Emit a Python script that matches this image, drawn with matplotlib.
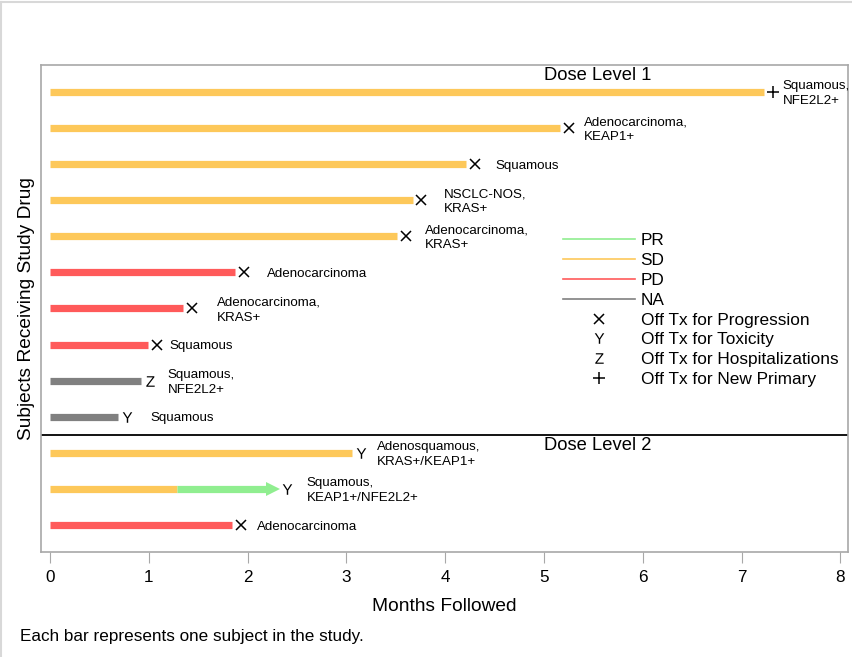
import numpy as np
import matplotlib
matplotlib.use("Agg")
import matplotlib.pyplot as plt
from matplotlib.lines import Line2D

plt.rcParams['font.family'] = ['Liberation Sans', 'DejaVu Sans']
plt.rcParams['mathtext.fontset'] = 'custom'
plt.rcParams['mathtext.rm'] = 'Liberation Sans'

# one row per subject, top to bottom (rows 0-9 dose level 1, 10-12 dose level 2)
months_total = [7.23, 5.16, 4.21, 3.67, 3.51, 1.87, 1.35, 0.99, 0.92, 0.69, 3.06, 2.31, 1.84]
months_first = [7.23, 5.16, 4.21, 3.67, 3.51, 1.87, 1.35, 0.99, 0.92, 0.69, 3.06, 1.29, 1.84]
response_first = ['SD', 'SD', 'SD', 'SD', 'SD', 'PD', 'PD', 'PD', 'NA', 'NA', 'SD', 'SD', 'PD']
response_second = [None] * 11 + ['PR', None]
off_reason = ['+', 'X', 'X', 'X', 'X', 'X', 'X', 'X', 'Z', 'Y', 'Y', 'Y', 'X']
histology = ['Squamous,\nNFE2L2+', 'Adenocarcinoma,\nKEAP1+', 'Squamous', 'NSCLC-NOS,\nKRAS+',
             'Adenocarcinoma,\nKRAS+', 'Adenocarcinoma', 'Adenocarcinoma,\nKRAS+', 'Squamous',
             'Squamous,\nNFE2L2+', 'Squamous', 'Adenosquamous,\nKRAS+/KEAP1+',
             'Squamous,\nKEAP1+/NFE2L2+', 'Adenocarcinoma']
label_pad = [7, 11, 15, 16, 14, 17, 18, 9, 13, 17, 11, 14, 12]  # points

colors = {'PR': '#90EE90', 'SD': '#FDC85A', 'PD': '#FF5A5A', 'NA': '#808080'}
markers = {'X': 'x', 'Y': r'$\mathrm{Y}$', 'Z': r'$\mathrm{Z}$', '+': '+'}
marker_size = {'X': 7.2, 'Y': 7.6, 'Z': 7.6, '+': 8}
marker_ew = {'X': 1.1, 'Y': 0, 'Z': 0, '+': 1.1}

fig = plt.figure(figsize=(8.53, 6.57), dpi=100)
ax = fig.add_axes([41/853, 1-552/657, 807/853, 487/657])

rows = np.arange(len(months_total))
gap = 0.09
for i in rows:
    ax.hlines(i, 0, months_first[i], color=colors[response_first[i]], lw=5.2)
    if response_second[i]:
        ax.hlines(i, months_first[i], months_total[i] - 0.08, color=colors[response_second[i]], lw=5.2)
        ax.plot(months_total[i] - 0.05, i, marker='>', ms=10, color=colors[response_second[i]], mew=0)
    mx = months_total[i] + gap
    k = off_reason[i]
    ax.plot(mx, i, marker=markers[k], ms=marker_size[k], color='black', mew=marker_ew[k], ls='none')
    ax.annotate(histology[i], (mx, i), xytext=(label_pad[i], -1.2), textcoords='offset points',
                ha='left', va='center', fontsize=9.6, linespacing=1.32)

ax.axhline(9.5, color='black', lw=1.3)
ax.text(5.54, -0.47, 'Dose Level 1', fontsize=13.2, ha='center', va='center')
ax.text(5.54, 9.8, 'Dose Level 2', fontsize=13.2, ha='center', va='center')

ax.set_xlim(-0.0911, 8.077)
ax.set_ylim(12.75, -0.75)
ax.set_xticks(range(9))
ax.set_yticks([])
ax.tick_params(axis='x', length=8, color='#A8A8A8', labelsize=12.3, pad=5)
for s in ax.spines.values():
    s.set_color('#A8A8A8')
    s.set_linewidth(1.2)
ax.set_xlabel('Months Followed', fontsize=13.8, labelpad=9)
ax.set_ylabel('Subjects Receiving Study Drug', fontsize=13.8, labelpad=4)

handles = [Line2D([], [], color=colors[k], lw=1.2) for k in ['PR', 'SD', 'PD', 'NA']]
handles += [Line2D([], [], color='black', ls='none', marker=markers[k], ms=marker_size[k],
                   mew=marker_ew[k]) for k in ['X', 'Y', 'Z', '+']]
labels = ['PR', 'SD', 'PD', 'NA', 'Off Tx for Progression', 'Off Tx for Toxicity',
          'Off Tx for Hospitalizations', 'Off Tx for New Primary']
ax.legend(handles, labels, loc='upper left', bbox_to_anchor=(0.647, 0.655), frameon=False,
          fontsize=12.4, handlelength=4.2, handletextpad=0.3, labelspacing=0.28,
          borderpad=0, borderaxespad=0)

fig.text(20/853, 1-636/657, 'Each bar represents one subject in the study.', fontsize=12.3, va='center')

# light outer frame
fig.add_artist(Line2D([1.5/853, 1.5/853], [0, 1-2/657], color='#D8D8D8', lw=1.5))
fig.add_artist(Line2D([1.5/853, 1], [1-2/657, 1-2/657], color='#D8D8D8', lw=1.5))

fig.savefig('out.png', dpi=100)
